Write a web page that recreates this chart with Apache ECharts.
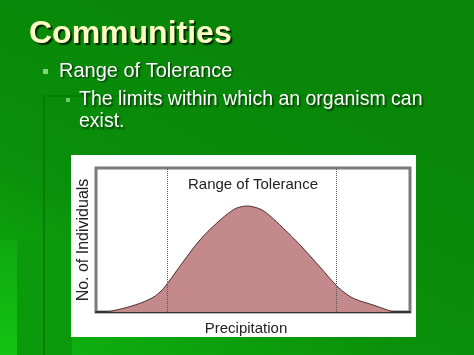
<!DOCTYPE html>
<html>
<head>
<meta charset="utf-8">
<title>Communities</title>
<script src="https://cdn.jsdelivr.net/npm/echarts@6/dist/echarts.min.js"></script>
<style>
  html, body { margin: 0; padding: 0; background: #0a8a0a; }
  #main { width: 474px; height: 355px; }
</style>
</head>
<body>
<div id="main"></div>
<script>
// curve: precipitation (0-100) vs no. of individuals (0-100)
var precip = [3.5, 10.8, 17.2, 20.4, 22.6, 27.7, 33.1, 38.5, 43.6, 45.9, 48.1, 50.3, 52.9, 55.4, 59.6, 65.0, 71.3, 76.4, 79.3, 82.5, 88.2, 94.6];
var individuals = [0, 3.8, 9.0, 13.9, 19.4, 34.7, 50, 61.8, 70.8, 72.9, 73.6, 72.9, 70.8, 66.7, 58.3, 46.5, 31.3, 18.8, 13.2, 9.0, 4.9, 0];
// limits of the range of tolerance
var limits = [22.7, 76.4];

var chartTitle = 'Range of Tolerance';
var xName = 'Precipitation';
var yName = 'No. of Individuals';

var points = precip.map(function (x, i) { return [x, individuals[i]]; });

var chart = echarts.init(document.getElementById('main'), null, { renderer: 'canvas' });

var font = '"Liberation Sans", Arial, sans-serif';
var shadow = { textShadowColor: 'rgba(0,0,0,0.6)', textShadowBlur: 2, textShadowOffsetX: 1.5, textShadowOffsetY: 1.5 };

var option = {
  backgroundColor: '#0a8a0a',
  animation: false,
  graphic: [
    // slide background, a bit lighter towards the bottom left
    { type: 'rect', shape: { x: 0, y: 0, width: 474, height: 355 }, z: -10, silent: true,
      style: { fill: new echarts.graphic.LinearGradient(0, 1, 0.35, 0, [
        { offset: 0, color: '#10b610' }, { offset: 0.45, color: '#0a900a' }, { offset: 1, color: '#088608' }]) } },
    { type: 'rect', shape: { x: 0, y: 240, width: 17, height: 115 }, z: -9, silent: true,
      style: { fill: new echarts.graphic.LinearGradient(0, 0, 0, 1, [
        { offset: 0, color: '#0fa80f' }, { offset: 1, color: '#12c412' }]) } },
    { type: 'rect', shape: { x: 17, y: 240, width: 55, height: 115 }, style: { fill: '#0b9a0b' }, z: -9, silent: true },
    { type: 'line', shape: { x1: 44, y1: 96, x2: 422, y2: 96 }, style: { stroke: '#077a07', lineWidth: 1.5 }, z: -8, silent: true },
    { type: 'line', shape: { x1: 44, y1: 96, x2: 44, y2: 355 }, style: { stroke: '#077607', lineWidth: 1.5 }, z: -8, silent: true },
    // white picture panel
    { type: 'rect', shape: { x: 71, y: 155, width: 345, height: 182 }, style: { fill: '#ffffff' }, z: -5, silent: true },
    // slide texts
    { type: 'text', left: 29, top: 18, style: { text: 'Communities', fill: '#fdfdc4', font: '900 32px ' + font,
        textShadowColor: 'rgba(0,0,0,0.7)', textShadowBlur: 1, textShadowOffsetX: 2, textShadowOffsetY: 2 } },
    { type: 'rect', shape: { x: 43, y: 69, width: 5, height: 5 }, style: { fill: '#7ad87a' } },
    { type: 'text', left: 59, top: 61, style: Object.assign({ text: 'Range of Tolerance', fill: '#ffffff', font: '20px ' + font }, shadow) },
    { type: 'rect', shape: { x: 66, y: 98, width: 4, height: 4 }, style: { fill: '#6acc6a' } },
    { type: 'text', left: 79, top: 89, style: Object.assign({ text: 'The limits within which an organism can\nexist.', fill: '#ffffff', font: '19.5px ' + font, lineHeight: 22 }, shadow) }
  ],
  title: {
    text: chartTitle,
    left: 248,
    top: 172,
    textAlign: 'center',
    textStyle: { fontSize: 15, fontWeight: 'normal', color: '#222', fontFamily: font }
  },
  grid: {
    left: 96, right: 64, top: 168, bottom: 43,
    show: true,
    backgroundColor: '#ffffff',
    borderColor: '#7a7a7a',
    borderWidth: 3
  },
  xAxis: {
    type: 'value',
    min: 0, max: 100,
    name: xName,
    nameLocation: 'middle',
    nameGap: 9,
    nameTextStyle: { fontSize: 15, color: '#222', fontFamily: font, padding: [0, 14, 0, 0] },
    axisLine: { show: true, lineStyle: { color: '#333', width: 2 } },
    axisTick: { show: false },
    axisLabel: { show: false },
    splitLine: { show: false }
  },
  yAxis: {
    type: 'value',
    min: 0, max: 100,
    name: yName,
    nameLocation: 'middle',
    nameGap: 4,
    nameTextStyle: { fontSize: 16, color: '#222', fontFamily: font },
    axisLine: { show: false },
    axisTick: { show: false },
    axisLabel: { show: false },
    splitLine: { show: false }
  },
  series: [
    {
      type: 'line',
      data: points,
      smooth: 0.4,
      symbol: 'none',
      lineStyle: { color: '#4e3030', width: 1 },
      areaStyle: { color: '#c4898a', opacity: 1 },
      markLine: {
        silent: true,
        symbol: 'none',
        label: { show: false },
        lineStyle: { color: '#555', type: 'dotted', width: 1 },
        data: limits.map(function (v) { return { xAxis: v }; })
      }
    }
  ]
};

chart.setOption(option);
</script>
</body>
</html>
